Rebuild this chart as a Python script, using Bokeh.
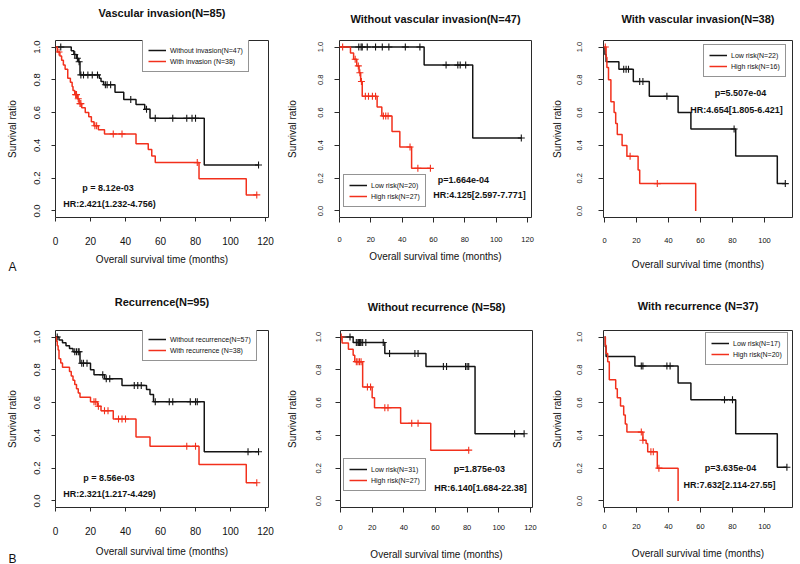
import numpy as np
from bokeh.plotting import figure
from bokeh.models import (Range1d, Legend, LegendItem, Label, FixedTicker,
                          PrintfTickFormatter, LinearAxis, Title)
from bokeh.layouts import column, row
from bokeh.embed import file_html
from bokeh.resources import INLINE

# ------------------------- data -------------------------
# Each curve: event times (months), survival after each event, censor times.
# Panel A1: Vascular invasion (N=85)
vi_without_t = [9, 10.5, 12, 13, 14, 25, 26, 27.5, 34, 39, 46, 51, 54, 85]
vi_without_s = [0.977, 0.955, 0.932, 0.91, 0.83, 0.81, 0.79, 0.77, 0.725, 0.68, 0.65, 0.62, 0.565, 0.28]
vi_without_c = [3, 11, 12.5, 13.5, 14.5, 16, 18.5, 21, 24, 28.5, 29.5, 31.5, 43, 52, 57, 67, 75, 78, 80, 116]
vi_with_t = [1, 2.5, 3.5, 4.5, 5.5, 7, 8.5, 9.5, 10, 11, 12.5, 13.5, 15, 17, 19, 20.5, 22, 24.5, 28, 46, 53, 55, 57, 82, 109]
vi_with_s = [0.97, 0.945, 0.92, 0.89, 0.865, 0.81, 0.785, 0.76, 0.735, 0.71, 0.685, 0.655, 0.63, 0.60, 0.575,
             0.545, 0.52, 0.495, 0.47, 0.41, 0.375, 0.335, 0.295, 0.197, 0.098]
vi_with_c = [2, 11.5, 12, 13, 14, 14.5, 22.5, 23.5, 33, 38, 81, 115]

# Panel A2: Without vascular invasion (N=47)
nvi_low_t = [54, 85]
nvi_low_s = [0.89, 0.445]
nvi_low_c = [12.3, 13.8, 14.5, 17.7, 23, 27.3, 31.5, 42, 51.3, 68, 75.5, 77, 80.5, 116]
nvi_high_t = [7, 9, 11, 12.5, 13.5, 14.5, 24, 27, 33.5, 38.5, 46]
nvi_high_s = [0.963, 0.926, 0.885, 0.843, 0.79, 0.70, 0.635, 0.58, 0.485, 0.39, 0.26]
nvi_high_c = [2, 10, 12, 13, 14, 16.5, 18.5, 21, 23, 28, 29.5, 31, 45, 50, 58]

# Panel A3: With vascular invasion (N=38)
wvi_low_t = [0.3, 1, 9, 18, 28, 46, 54, 82, 108]
wvi_low_s = [0.955, 0.91, 0.865, 0.79, 0.70, 0.60, 0.50, 0.335, 0.167]
wvi_low_c = [12, 13.5, 15, 22, 24, 39, 81, 113]
wvi_high_t = [1, 1.5, 2.5, 4, 6, 7, 8, 11, 14, 21, 22, 57]
wvi_high_s = [0.9375, 0.875, 0.80, 0.667, 0.60, 0.533, 0.467, 0.40, 0.333, 0.25, 0.167, 0.0]
wvi_high_c = [0.5, 16, 33]

# Panel B1: Recurrence (N=95)
rec_without_t = [2, 4, 6, 8, 10, 14, 20, 22, 28, 38, 52, 54, 56, 85]
rec_without_s = [0.982, 0.965, 0.947, 0.93, 0.91, 0.84, 0.80, 0.77, 0.745, 0.705, 0.68, 0.65, 0.605, 0.30]
rec_without_c = [1, 11, 12, 13, 13.5, 15, 16, 18, 27, 29, 31, 45, 47, 49, 57, 65, 67, 77, 80, 81, 110, 116]
rec_with_t = [0.5, 1, 1.5, 2, 3, 4, 8, 9, 10, 11, 12, 13, 14, 20, 24, 26, 33, 46, 54, 82, 109]
rec_with_s = [0.974, 0.947, 0.921, 0.868, 0.842, 0.816, 0.79, 0.763, 0.737, 0.71, 0.684, 0.658, 0.632,
              0.605, 0.578, 0.55, 0.50, 0.39, 0.333, 0.222, 0.111]
rec_with_c = [22, 23, 24.5, 28, 30, 36, 38, 40, 75, 80, 115]

# Panel B2: Without recurrence (N=58)
nrec_low_t = [8, 28, 54, 85]
nrec_low_s = [0.967, 0.90, 0.82, 0.41]
nrec_low_c = [6, 10, 11, 11.5, 12, 12.5, 13, 14, 16, 27, 31, 47, 49, 65, 67, 79, 80, 81, 110, 116]
nrec_high_t = [1, 5, 8, 9, 14, 20, 21.5, 38, 57]
nrec_high_s = [0.963, 0.926, 0.889, 0.85, 0.695, 0.63, 0.569, 0.474, 0.31]
nrec_high_c = [0.5, 10, 11, 12, 13, 17, 19, 28, 30, 45, 49, 81]

# Panel B3: With recurrence (N=37)
wrec_low_t = [0.5, 1, 19, 46, 54, 82, 108]
wrec_low_s = [0.941, 0.882, 0.823, 0.72, 0.617, 0.41, 0.206]
wrec_low_c = [23, 24, 39, 41, 75, 80, 114]
wrec_high_t = [0.5, 1, 2, 3, 7, 8, 10, 12, 13, 14, 24, 26, 27, 33, 46]
wrec_high_s = [0.95, 0.90, 0.85, 0.74, 0.685, 0.63, 0.58, 0.525, 0.47, 0.42, 0.37, 0.35, 0.30, 0.20, 0.0]
wrec_high_c = [23, 24, 29, 30.5, 34]

titles = ["Vascular invasion(N=85)", "Without vascular invasion(N=47)", "With vascular invasion(N=38)",
          "Recurrence(N=95)", "Without recurrence (N=58)", "With recurrence (N=37)"]
legend_labels = [("Without invasion(N=47)", "With invasion (N=38)"),
                 ("Low risk(N=20)", "High risk(N=27)"),
                 ("Low risk(N=22)", "High risk(N=16)"),
                 ("Without recurrence(N=57)", "With recurrence (N=38)"),
                 ("Low risk(N=31)", "High risk(N=27)"),
                 ("Low risk(N=17)", "High risk(N=20)")]
p_texts = ["p = 8.12e-03", "p=1.664e-04", "p=5.507e-04", "p = 8.56e-03", "p=1.875e-03", "p=3.635e-04"]
hr_texts = ["HR:2.421(1.232-4.756)", "HR:4.125[2.597-7.771]", "HR:4.654[1.805-6.421]",
            "HR:2.321(1.217-4.429)", "HR:6.140[1.684-22.38]", "HR:7.632[2.114-27.55]"]
panel_letters = ["A", None, None, "B", None, None]
x_ticks_long = [0, 20, 40, 60, 80, 100, 120]
x_ticks_short = [0, 20, 40, 60, 80, 100]
y_ticks = [0.0, 0.2, 0.4, 0.6, 0.8, 1.0]

curves = [
    ((vi_without_t, vi_without_s, vi_without_c), (vi_with_t, vi_with_s, vi_with_c)),
    ((nvi_low_t, nvi_low_s, nvi_low_c), (nvi_high_t, nvi_high_s, nvi_high_c)),
    ((wvi_low_t, wvi_low_s, wvi_low_c), (wvi_high_t, wvi_high_s, wvi_high_c)),
    ((rec_without_t, rec_without_s, rec_without_c), (rec_with_t, rec_with_s, rec_with_c)),
    ((nrec_low_t, nrec_low_s, nrec_low_c), (nrec_high_t, nrec_high_s, nrec_high_c)),
    ((wrec_low_t, wrec_low_s, wrec_low_c), (wrec_high_t, wrec_high_s, wrec_high_c)),
]

# ------------------------- layout / style -------------------------
FONT = "Liberation Sans"
BLACK = "#141414"
RED = "#f2301c"
FRAME = "#2a2a2a"

cfgs = [
    dict(w=275, h=280, l=55, r=7, t=40, b=63, xr=(0, 121.7), xt=x_ticks_long, big=True, sp=20,
         xs=15, xals=6, ys=11, yals=14, leg=(87, 145), pxy=(30, 0.141), hxy=(30.9, 0.044)),
    dict(w=265, h=280, l=64, r=9, t=40, b=63, xr=(0, 122.5), xt=x_ticks_long, big=False, sp=14,
         xs=14, xals=6, ys=11, yals=18, leg=(4, 10), pxy=(79.1, 0.186), hxy=(89.3, 0.10)),
    dict(w=258, h=280, l=63, r=6, t=40, b=63, xr=(-0.625, 117.5), xt=x_ticks_short, big=False, sp=14,
         xs=15, xals=13, ys=16, yals=12, leg=(100, 140), pxy=(85, 0.717), hxy=(82.5, 0.613)),
    dict(w=275, h=284, l=55, r=7, t=50, b=57, xr=(0, 121.7), xt=x_ticks_long, big=True, sp=21,
         xs=15, xals=8, ys=11, yals=14, leg=(87, 146), pxy=(30.5, 0.141), hxy=(30.9, 0.04)),
    dict(w=265, h=284, l=65, r=8, t=50, b=57, xr=(0, 121.3), xt=x_ticks_long, big=False, sp=16,
         xs=12, xals=16, ys=14, yals=16, leg=(3, 16), pxy=(87.8, 0.192), hxy=(88.4, 0.082)),
    dict(w=258, h=284, l=63, r=6, t=50, b=57, xr=(-0.625, 117.5), xt=x_ticks_short, big=False, sp=17,
         xs=11, xals=16, ys=16, yals=12, leg=(102, 142), pxy=(78.75, 0.204), hxy=(78.1, 0.10)),
]


def step_xy(times, surv, censors):
    end = max(list(times) + list(censors))
    x = [0.0] + list(times)
    y = [1.0] + list(surv)
    if end > x[-1]:
        x.append(end)
        y.append(y[-1])
    return x, y


def censor_y(times, surv, censors):
    t = np.asarray(times, dtype=float)
    s = np.asarray(surv, dtype=float)
    out = []
    for c in censors:
        i = int(np.searchsorted(t, c, side="right"))
        out.append(1.0 if i == 0 else float(s[i - 1]))
    return out


def make_panel(i):
    cfg = cfgs[i]
    big = cfg["big"]
    p = figure(width=cfg["w"], height=cfg["h"], output_backend="svg", toolbar_location=None,
               x_range=Range1d(*cfg["xr"]), y_range=Range1d(-0.04, 1.04),
               min_border_left=cfg["l"], min_border_right=cfg["r"],
               min_border_top=cfg["t"], min_border_bottom=cfg["b"])
    p.grid.visible = False
    p.outline_line_color = FRAME
    p.outline_line_width = 1
    p.background_fill_color = "white"
    p.border_fill_color = "white"

    xa = p.below[0]
    ya = p.left[0]
    for ax in (xa, ya):
        ax.axis_line_color = None
        ax.major_tick_line_color = FRAME
        ax.major_tick_out = 4 if big else 5
        ax.major_tick_in = 0
        ax.minor_tick_line_color = None
        ax.major_label_text_font = FONT
        ax.major_label_text_color = "#111111"
        ax.axis_label_text_font = FONT
        ax.axis_label_text_font_style = "normal"
        ax.axis_label_text_font_size = "10px"
        ax.axis_label_text_color = "#111111"
    xa.ticker = FixedTicker(ticks=cfg["xt"])
    xa.formatter = PrintfTickFormatter(format="%d")
    ya.ticker = FixedTicker(ticks=y_ticks)
    ya.formatter = PrintfTickFormatter(format="%.1f")
    ya.major_label_orientation = "vertical"
    xa.axis_label = "Overall survival time (months)"
    ya.axis_label = "Survival ratio"
    xa.major_label_text_font_size = "10px" if big else "7.5px"
    ya.major_label_text_font_size = "9.5px" if big else "7.5px"
    xa.major_label_standoff = cfg["xs"]
    xa.axis_label_standoff = cfg["xals"]
    ya.major_label_standoff = cfg["ys"]
    ya.axis_label_standoff = cfg["yals"]

    # invisible spacer between frame and title (R puts the title well above the box):
    # one tick with no line and an empty label
    spacer = LinearAxis(ticker=FixedTicker(ticks=[cfg["xt"][2]]), major_tick_out=cfg["sp"],
                        major_tick_in=0, major_label_standoff=0,
                        major_label_overrides={cfg["xt"][2]: ""},
                        major_label_text_font_size="1px",
                        axis_line_color=None, major_tick_line_color=None,
                        minor_tick_line_color=None, minor_tick_out=0)
    p.add_layout(spacer, "above")
    p.add_layout(Title(text=titles[i], align="center", text_font=FONT, text_font_size="11px",
                       text_font_style="bold", text_color="#111111", standoff=4), "above")

    renderers = []
    for (t, s, c), color in zip(curves[i], (BLACK, RED)):
        x, y = step_xy(t, s, c)
        r = p.step(x, y, mode="after", line_color=color, line_width=1.5)
        p.scatter(c, censor_y(t, s, c), marker="cross", size=7, line_color=color, line_width=1.1)
        renderers.append(r)

    lb, lr = legend_labels[i]
    leg = Legend(items=[LegendItem(label=lb, renderers=[renderers[0]]),
                        LegendItem(label=lr, renderers=[renderers[1]])],
                 location=cfg["leg"], orientation="vertical",
                 border_line_color=FRAME, border_line_width=1,
                 background_fill_color="white", background_fill_alpha=1.0,
                 label_text_font=FONT, label_text_font_size="7px", label_text_color="#111111",
                 glyph_width=18, glyph_height=10, label_height=10, label_standoff=4,
                 padding=5, spacing=1, margin=0)
    p.add_layout(leg)

    for txt, (lx, ly) in ((p_texts[i], cfg["pxy"]), (hr_texts[i], cfg["hxy"])):
        p.add_layout(Label(x=lx, y=ly, text=txt, text_font=FONT, text_font_size="9px",
                           text_font_style="bold", text_align="center", text_baseline="middle",
                           text_color="#111111"))
    if panel_letters[i]:
        p.add_layout(Title(text=panel_letters[i], align="left", offset=-47, vertical_align="top",
                           standoff=-16, text_font=FONT, text_font_size="12px",
                           text_font_style="normal", text_color="#111111"), "below")
    return p


panels = [make_panel(i) for i in range(6)]
layout = column(row(panels[0], panels[1], panels[2], spacing=0),
                row(panels[3], panels[4], panels[5], spacing=0), spacing=0)

open("out.html", "w").write(file_html(layout, INLINE))
